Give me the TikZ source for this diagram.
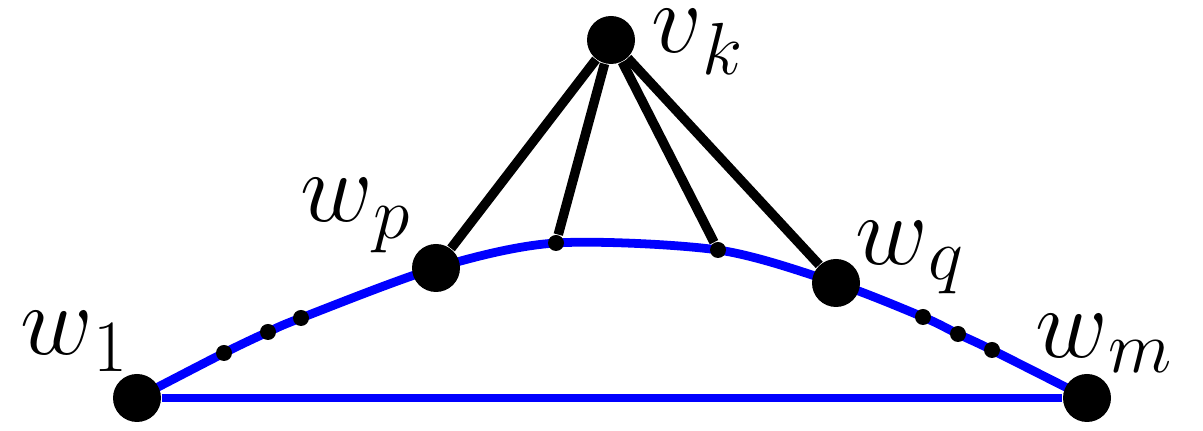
\RequirePackage{fix-cm}
\documentclass[tikz,border=0pt]{standalone}
\usepackage{amsmath}
\usetikzlibrary{backgrounds}

% vertex name with a lowered index
\newcommand{\vlab}[3][4.6pt]{$#2$\raisebox{-#1}{\fontsize{21}{24}\selectfont$#3$}}

\tikzset{
  vtx/.style={circle, fill=black, inner sep=0pt, minimum size=4.8mm},
  pt/.style={circle, fill=black, inner sep=0pt, minimum size=1.6mm},
  lbl/.style={inner sep=0pt, anchor=base west, font=\fontsize{28.45}{34}\selectfont},
  blueline/.style={blue, line width=2.5pt},
  spoke/.style={black, line width=2.7pt}
}

\begin{document}
\begin{tikzpicture}
\useasboundingbox (0,0) rectangle (12.03,4.31);

% big vertices
\node[vtx] (w1) at (1.37,0.33) {};
\node[vtx] (wp) at (4.36,1.63) {};
\node[vtx] (wq) at (8.36,1.48) {};
\node[vtx] (wm) at (10.87,0.33) {};
\node[vtx] (vk) at (6.11,3.91) {};

% small points on the path
\node[pt] (d1) at (2.24,0.78) {};
\node[pt] (d2) at (2.68,0.99) {};
\node[pt] (d3) at (3.01,1.13) {};
\node[pt] (a) at (5.56,1.88) {};
\node[pt] (b) at (7.18,1.81) {};
\node[pt] (d4) at (9.23,1.14) {};
\node[pt] (d5) at (9.58,0.97) {};
\node[pt] (d6) at (9.92,0.81) {};

% labels
\node[lbl] (lw1) at (0.20,0.76) {\vlab{w}{1}};
\node[lbl] (lwp) at (3.00,2.09) {\vlab{w}{p}};
\node[lbl] (lwq) at (8.55,1.66) {\vlab[4.2pt]{w}{q}};
\node[lbl] (lwm) at (10.35,0.73) {\vlab[4pt]{w}{m}};
\node[lbl] (lvk) at (6.51,3.78) {\vlab[6pt]{v}{k}};

\begin{scope}[on background layer]
\draw[blueline] plot[smooth] coordinates {(w1.center) (d1.center) (d2.center) (d3.center) (wp.center) (a.center) (b.center) (wq.center) (d4.center) (d5.center) (d6.center) (wm.center)};
\draw[blueline] (w1) -- (wm);
\foreach \t in {wp,a,b,wq}
  \draw[spoke] (vk) -- (\t);
\end{scope}

\end{tikzpicture}
\end{document}
